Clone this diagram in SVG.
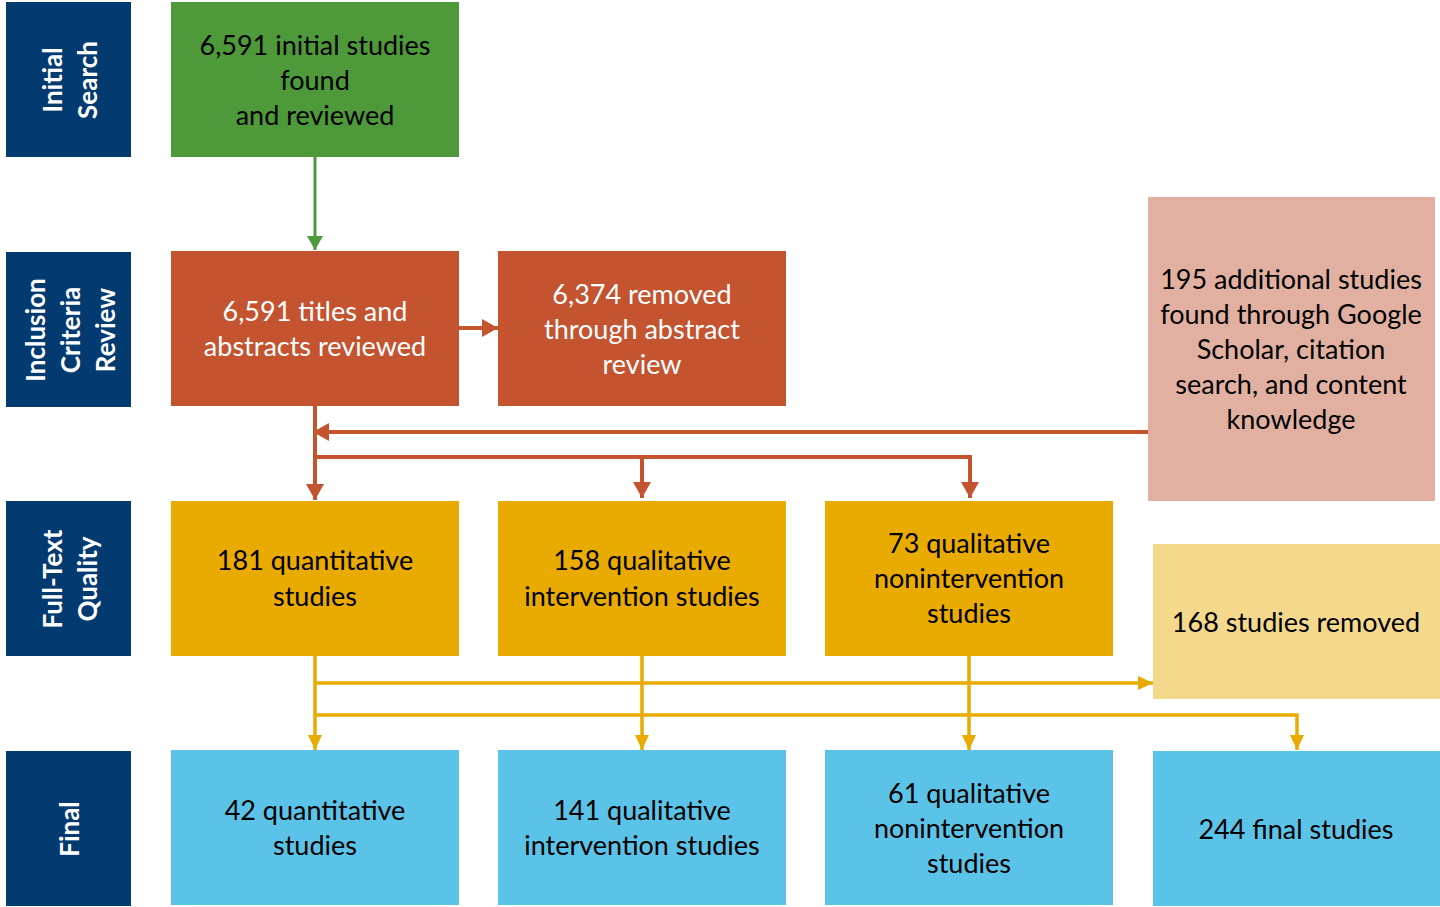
<svg xmlns="http://www.w3.org/2000/svg" width="1440" height="907" viewBox="0 0 1440 907">
<style>
.lab{fill:#033A70}
.lt{font-family:Lato,"Liberation Sans",sans-serif;font-weight:bold;font-size:26px;fill:#fff;text-anchor:middle;dominant-baseline:central}
.t{font-family:Lato,"Liberation Sans",sans-serif;font-size:27px;fill:#000;text-anchor:middle}
.w{fill:#fff}
.cg{stroke:#4E9A3A;stroke-width:3;fill:none}
.cr{stroke:#C4532F;stroke-width:4;fill:none}
.cy{stroke:#EAAB00;stroke-width:3.5;fill:none}
</style>
<defs>
<marker id="ag" markerUnits="userSpaceOnUse" markerWidth="16" markerHeight="16" refX="14" refY="8" orient="auto"><path d="M0,0 L14,8 L0,16 Z" fill="#4E9A3A"/></marker>
<marker id="ar" markerUnits="userSpaceOnUse" markerWidth="18" markerHeight="18" refX="16" refY="9" orient="auto"><path d="M0,0 L16,9 L0,18 Z" fill="#C4532F"/></marker>
<marker id="ay" markerUnits="userSpaceOnUse" markerWidth="16" markerHeight="16" refX="15" refY="8" orient="auto"><path d="M0,1 L15,8 L0,15 Z" fill="#EAAB00"/></marker>
</defs>
<rect width="1440" height="907" fill="#fff"/>

<g id="label-initial"><rect class="lab" x="6" y="2" width="125" height="155"/>
<text class="lt" transform="translate(69,80) rotate(-90)"><tspan x="0" y="-17">Initial</tspan><tspan x="0" y="18">Search</tspan></text></g>
<g id="label-inclusion"><rect class="lab" x="6" y="252" width="125" height="155"/>
<text class="lt" transform="translate(69,330) rotate(-90)"><tspan x="0" y="-34">Inclusion</tspan><tspan x="0" y="1">Criteria</tspan><tspan x="0" y="36">Review</tspan></text></g>
<g id="label-fulltext"><rect class="lab" x="6" y="501" width="125" height="155"/>
<text class="lt" transform="translate(69,579) rotate(-90)"><tspan x="0" y="-17">Full-Text</tspan><tspan x="0" y="18">Quality</tspan></text></g>
<g id="label-final"><rect class="lab" x="6" y="751" width="125" height="155"/>
<text class="lt" transform="translate(69,829) rotate(-90)"><tspan x="0" y="0">Final</tspan></text></g>

<g id="connectors">
<path class="cg" d="M315,157 V250" marker-end="url(#ag)"/>
<path class="cr" d="M459,328 H498" marker-end="url(#ar)"/>
<path class="cr" d="M315,406 V500" marker-end="url(#ar)"/>
<path class="cr" d="M1148,432 H313" marker-end="url(#ar)"/>
<path class="cr" d="M315,457 H970 V498" marker-end="url(#ar)"/>
<path class="cr" d="M642,457 V498" marker-end="url(#ar)"/>
<path class="cy" d="M315,656 V750" marker-end="url(#ay)"/>
<path class="cy" d="M642,656 V750" marker-end="url(#ay)"/>
<path class="cy" d="M969,656 V750" marker-end="url(#ay)"/>
<path class="cy" d="M315,683 H1153" marker-end="url(#ay)"/>
<path class="cy" d="M315,715 H1297 V750" marker-end="url(#ay)"/>
</g>

<g id="n-initial"><rect x="171" y="2" width="288" height="155" fill="#4E9A3A"/>
<text class="t"><tspan x="315" y="55">6,591 initial studies</tspan><tspan x="315" y="90">found</tspan><tspan x="315" y="125">and reviewed</tspan></text></g>
<g id="n-titles"><rect x="171" y="251" width="288" height="155" fill="#C4532F"/>
<text class="t w"><tspan x="315" y="321">6,591 titles and</tspan><tspan x="315" y="356">abstracts reviewed</tspan></text></g>
<g id="n-removed"><rect x="498" y="251" width="288" height="155" fill="#C4532F"/>
<text class="t w"><tspan x="642" y="304">6,374 removed</tspan><tspan x="642" y="339">through abstract</tspan><tspan x="642" y="374">review</tspan></text></g>
<g id="n-additional"><rect x="1148" y="197" width="287" height="304" fill="#E2B0A0"/>
<text class="t"><tspan x="1291" y="289">195 additional studies</tspan><tspan x="1291" y="324">found through Google</tspan><tspan x="1291" y="359">Scholar, citation</tspan><tspan x="1291" y="394">search, and content</tspan><tspan x="1291" y="429">knowledge</tspan></text></g>

<g id="n-quant"><rect x="171" y="501" width="288" height="155" fill="#EAAB00"/>
<text class="t"><tspan x="315" y="570">181 quantitative</tspan><tspan x="315" y="606">studies</tspan></text></g>
<g id="n-qualint"><rect x="498" y="501" width="288" height="155" fill="#EAAB00"/>
<text class="t"><tspan x="642" y="570">158 qualitative</tspan><tspan x="642" y="606">intervention studies</tspan></text></g>
<g id="n-qualnon"><rect x="825" y="501" width="288" height="155" fill="#EAAB00"/>
<text class="t"><tspan x="969" y="553">73 qualitative</tspan><tspan x="969" y="588">nonintervention</tspan><tspan x="969" y="623">studies</tspan></text></g>
<g id="n-removed168"><rect x="1153" y="544" width="287" height="155" fill="#F4D98C"/>
<text class="t"><tspan x="1296" y="632">168 studies removed</tspan></text></g>

<g id="n-fquant"><rect x="171" y="750" width="288" height="155" fill="#5BC3E8"/>
<text class="t"><tspan x="315" y="820">42 quantitative</tspan><tspan x="315" y="855">studies</tspan></text></g>
<g id="n-fqualint"><rect x="498" y="750" width="288" height="155" fill="#5BC3E8"/>
<text class="t"><tspan x="642" y="820">141 qualitative</tspan><tspan x="642" y="855">intervention studies</tspan></text></g>
<g id="n-fqualnon"><rect x="825" y="750" width="288" height="155" fill="#5BC3E8"/>
<text class="t"><tspan x="969" y="803">61 qualitative</tspan><tspan x="969" y="838">nonintervention</tspan><tspan x="969" y="873">studies</tspan></text></g>
<g id="n-final"><rect x="1153" y="751" width="287" height="155" fill="#5BC3E8"/>
<text class="t"><tspan x="1296" y="839">244 final studies</tspan></text></g>
</svg>
